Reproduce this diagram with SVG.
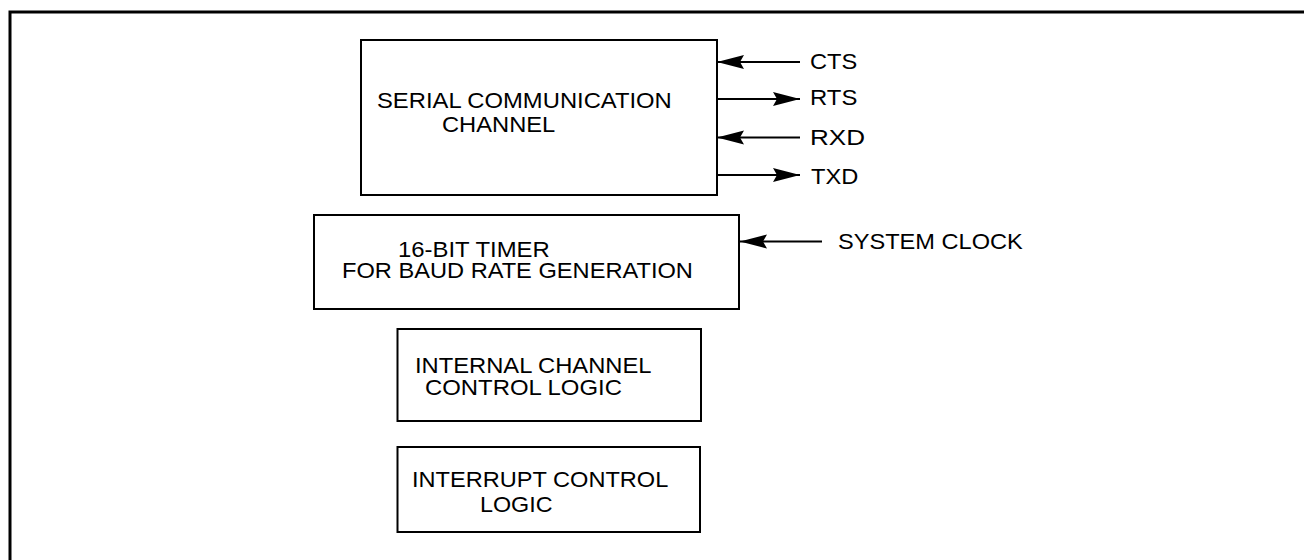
<svg xmlns="http://www.w3.org/2000/svg" width="1304" height="560" viewBox="0 0 1304 560">
  <style>
    .box { fill: none; stroke: #000; stroke-width: 2; }
    .lbl { font-family: "Liberation Sans", Arial, sans-serif; font-size: 21.5px; fill: #000; }
    .wire { stroke: #000; stroke-width: 2; fill: none; marker-end: url(#ah); }
    .frame { stroke: #000; stroke-width: 3; fill: none; }
  </style>
  <defs>
    <marker id="ah" markerUnits="userSpaceOnUse" markerWidth="30" markerHeight="16" refX="27" refY="7" orient="auto" overflow="visible">
      <path d="M0,0 L27,7 L0,14 L4,7 Z" fill="#000"/>
    </marker>
  </defs>
  <rect width="1304" height="560" fill="#fff"/>
  <g id="frame">
    <path class="frame" d="M10,560 L10,12 L1304,12"/>
  </g>
  <g id="serial-channel">
    <rect class="box" x="361" y="40" width="356" height="155"/>
    <text class="lbl" transform="translate(377,108) scale(1.1,1)" textLength="268" lengthAdjust="spacingAndGlyphs">SERIAL COMMUNICATION</text>
    <text class="lbl" transform="translate(442,132) scale(1.1,1)" textLength="103" lengthAdjust="spacingAndGlyphs">CHANNEL</text>
  </g>
  <g id="timer">
    <rect class="box" x="314" y="215" width="425" height="94"/>
    <text class="lbl" transform="translate(398,256.5) scale(1.1,1)" textLength="138" lengthAdjust="spacingAndGlyphs">16-BIT TIMER</text>
    <text class="lbl" transform="translate(342,278) scale(1.1,1)" textLength="319" lengthAdjust="spacingAndGlyphs">FOR BAUD RATE GENERATION</text>
  </g>
  <g id="internal-control">
    <rect class="box" x="397.5" y="329" width="303.5" height="92"/>
    <text class="lbl" transform="translate(415,373) scale(1.1,1)" textLength="215" lengthAdjust="spacingAndGlyphs">INTERNAL CHANNEL</text>
    <text class="lbl" transform="translate(425,395) scale(1.1,1)" textLength="179" lengthAdjust="spacingAndGlyphs">CONTROL LOGIC</text>
  </g>
  <g id="interrupt-control">
    <rect class="box" x="397.5" y="447" width="302.5" height="85"/>
    <text class="lbl" transform="translate(412,487) scale(1.1,1)" textLength="233" lengthAdjust="spacingAndGlyphs">INTERRUPT CONTROL</text>
    <text class="lbl" transform="translate(480,512) scale(1.1,1)" textLength="66" lengthAdjust="spacingAndGlyphs">LOGIC</text>
  </g>
  <g id="signal-labels">
    <text class="lbl" transform="translate(810,68.5) scale(1.1,1)" textLength="43" lengthAdjust="spacingAndGlyphs">CTS</text>
    <text class="lbl" transform="translate(810,105) scale(1.1,1)" textLength="43" lengthAdjust="spacingAndGlyphs">RTS</text>
    <text class="lbl" transform="translate(810,144.5) scale(1.1,1)" textLength="50" lengthAdjust="spacingAndGlyphs">RXD</text>
    <text class="lbl" transform="translate(811,183.5) scale(1.1,1)" textLength="43" lengthAdjust="spacingAndGlyphs">TXD</text>
    <text class="lbl" transform="translate(838,248.5) scale(1.1,1)" textLength="168" lengthAdjust="spacingAndGlyphs">SYSTEM CLOCK</text>
  </g>
  <g id="connectors">
    <line class="wire" x1="800" y1="62" x2="717" y2="62"/>
    <line class="wire" x1="717" y1="99" x2="800" y2="99"/>
    <line class="wire" x1="800" y1="137.5" x2="717" y2="137.5"/>
    <line class="wire" x1="717" y1="175" x2="800" y2="175"/>
    <line class="wire" x1="822" y1="241.5" x2="740" y2="241.5"/>
  </g>
</svg>
